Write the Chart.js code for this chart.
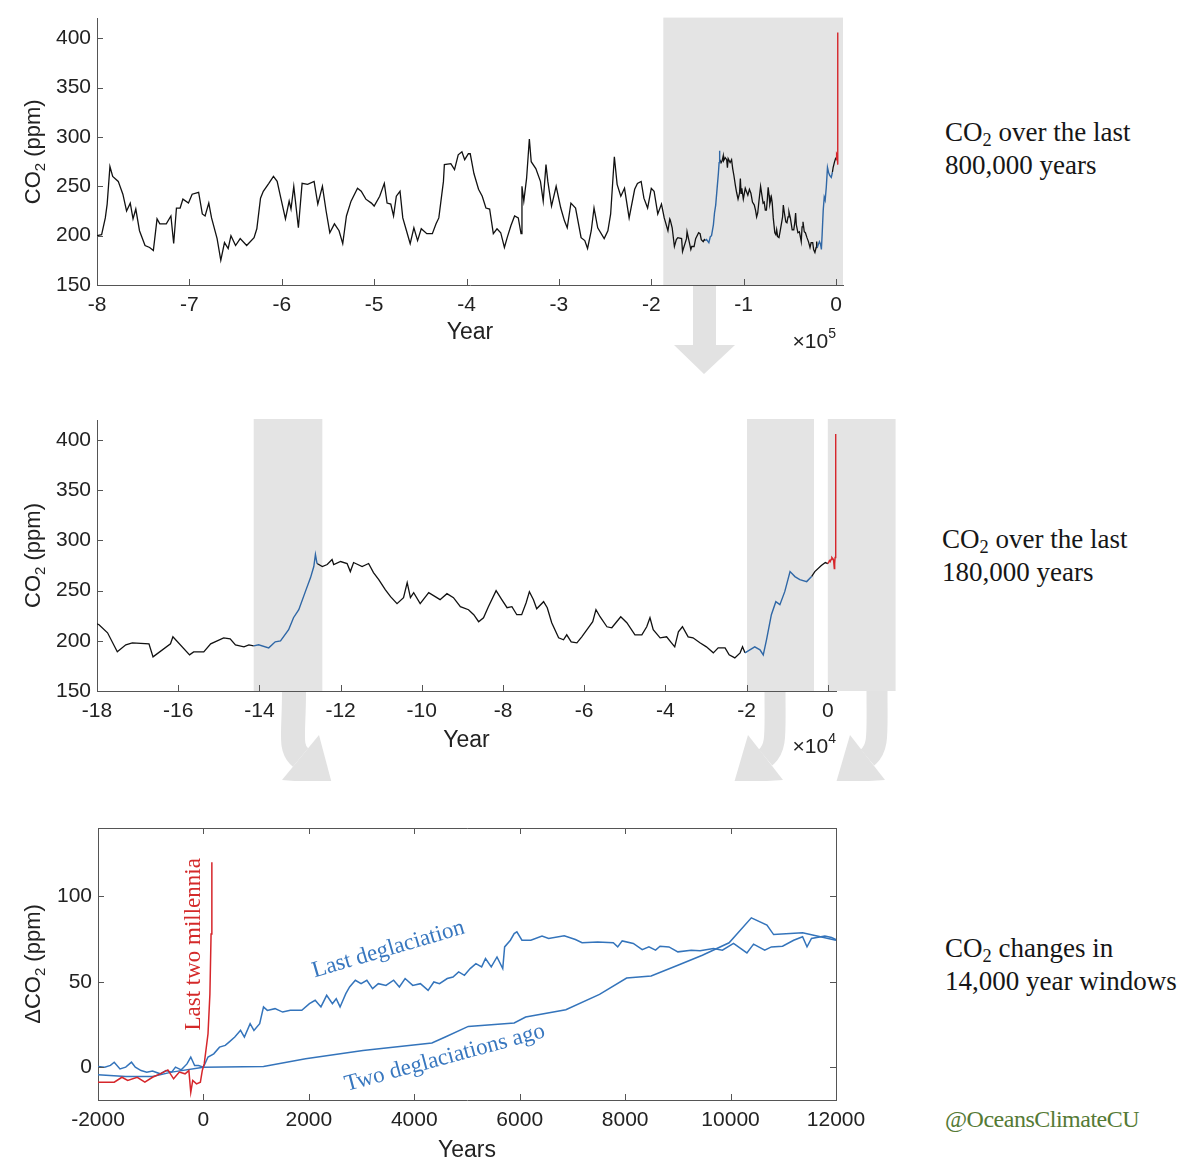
<!DOCTYPE html>
<html>
<head>
<meta charset="utf-8">
<title>CO2 over the last 800,000 years</title>
<script src="https://cdn.jsdelivr.net/npm/chart.js@4.4.1/dist/chart.umd.min.js"></script>
<style>
  html, body { margin: 0; background: #fff; }
  #wrap { position: relative; width: 1200px; height: 1172px; overflow: hidden; }
  #wrap canvas { position: absolute; left: 0; }
  #arrows { position: absolute; left: 0; top: 0; }
  .note { position: absolute; font-family: "Liberation Serif", "DejaVu Serif", serif; font-size: 27px; line-height: 33px; color: #161616; white-space: nowrap; }
  .note sub { font-size: 0.68em; line-height: 0; vertical-align: -0.28em; }
  .handle { color: #557a35; font-size: 24px; letter-spacing: -0.5px; }
</style>
</head>
<body>
<div id="wrap">
  <svg id="arrows" width="1200" height="1172">
    <defs><clipPath id="cut"><rect x="0" y="0" width="1200" height="781"/></clipPath></defs>
    <g fill="#e2e2e2">
      <path d="M693,286 H716 V345 H735 L704,374 L674,345 H693 Z"/>
    </g>
    <g clip-path="url(#cut)">
      <g fill="none" stroke="#e2e2e2" stroke-width="24" stroke-linecap="butt">
        <path d="M294,691 C294,735 289,748 300.5,757.5"/>
        <path d="M775,691 C775,735 777,748 765.5,757.5" stroke-width="21"/>
        <path d="M877,691 C877,735 879,748 867.5,757.5" stroke-width="21"/>
      </g>
      <g fill="#e2e2e2">
        <polygon points="282,780 319,735 332,784"/>
        <polygon points="748,735 783,780 734,783"/>
        <polygon points="850,735 885,780 836,783"/>
      </g>
    </g>
  </svg>
  <canvas id="c800" width="900" height="390" style="top:0"></canvas>
  <canvas id="c180" width="900" height="380" style="top:400px"></canvas>
  <canvas id="cwin" width="900" height="382" style="top:790px"></canvas>
  <div class="note" style="left:945px;top:116px">CO<sub>2</sub> over the last<br>800,000 years</div>
  <div class="note" style="left:942px;top:523px">CO<sub>2</sub> over the last<br>180,000 years</div>
  <div class="note" style="left:945px;top:932px">CO<sub>2</sub> changes in<br>14,000 year windows</div>
  <div class="note handle" style="left:945px;top:1103px">@OceansClimateCU</div>
</div>
<script>
// ---- ice core record, 800k to 180k years ago (kyr, ppm)
const longYr = [-800,-795,-791,-789,-786,-783,-777,-772,-768,-764,
  -761,-758,-754,-748,-743,-739,-735,-732,-725,-720,
  -717,-714,-710,-707,-701,-697,-690,-686,-683,-679,
  -676,-670,-666,-662,-658,-655,-650,-645,-638,-630,
  -627,-623,-620,-614,-609,-605,-601,-596,-592,-590,
  -587,-582,-578,-572,-565,-561,-556,-552,-548,-543,
  -538,-534,-530,-525,-518,-514,-509,-503,-500,-494,
  -489,-486,-482,-479,-476,-472,-469,-465,-461,-457,
  -453,-449,-443,-437,-433,-430,-425,-424,-417,-413,
  -409,-405,-402,-398,-396,-392,-387,-383,-379,-375,
  -371,-367,-363,-359,-356,-352,-348,-344,-341,-340,
  -338,-335,-332,-330,-325,-320,-317,-314,-312,-308,
  -303,-298,-294,-291,-287,-282,-276,-272,-269,-265,
  -262,-258,-251,-247,-244,-240,-237,-233,-229,-224,
  -218,-215,-211,-208,-204,-200,-197,-193,-189,-186,
  -182];
const longPpm = [200,201,218,232,270,260,255,242,225,233,
  217,227,205,190,188,185,217,212,212,220,
  192,228,228,237,233,242,244,222,220,233,
  218,197,175,193,187,200,190,197,190,198,
  207,238,245,253,260,255,238,217,235,227,
  250,208,253,252,255,232,250,225,203,212,
  205,192,220,235,248,245,237,233,230,240,
  253,233,232,220,240,245,218,205,192,208,
  195,207,202,202,212,218,255,272,273,267,
  282,285,277,283,283,263,247,240,228,227,
  202,207,203,188,198,210,220,218,202,250,
  235,258,298,275,268,255,235,272,255,230,
  250,228,215,208,233,228,198,195,187,205,
  228,208,197,205,222,280,252,240,248,218,
  247,253,255,238,228,248,245,222,232,218,
  205];

// ---- last 180k years (kyr, ppm)
const glacYr = [-180,-179.5,-177.4,-175,-172.9,-171.3,-167.2,-166.2,-161.9,-161.3,
  -157.2,-156.2,-153.7,-152,-148.8,-147.2,-145.9,-143.8,-142.6,-141.4,
  -140.2,-137.7,-136.1,-134.8,-132.8,-131.6,-130.3,-128.5,-127.4,-126.6,
  -126.2,-125.8,-124.5,-123.3,-122.1,-121.7,-120,-118.4,-117.6,-116.8,
  -114.7,-113.1,-111.9,-110.6,-109,-107.7,-106.1,-104.5,-103.6,-102.8,
  -102,-100.4,-98.3,-96.7,-95.5,-93.8,-92.2,-90.5,-88.5,-87.2,
  -86,-84.8,-83.6,-81.7,-80.3,-79,-77.8,-76.6,-75.4,-74.3,
  -73.5,-72.5,-71.7,-70,-69.1,-68,-66.3,-65.1,-64.3,-63.2,
  -61.8,-60.6,-59,-57.9,-57.1,-56.1,-54.4,-53.2,-52,-51,
  -49.5,-47.5,-45.8,-44.6,-43.8,-43,-41.3,-39.7,-38.5,-37.7,
  -36.8,-35.8,-34.4,-33.2,-31.5,-29.9,-28.2,-27,-25.3,-24.3,
  -22.9,-21.6,-21,-20.4,-19.2,-18,-16.7,-15.9,-15.1,-13.9,
  -12.8,-11.8,-10.6,-9.3,-8.1,-6.9,-5.2,-4,-3.2,-1.6,
  -0.6,0];
const glacPpm = [217,216,208,189,196,198,197,184,197,204,
  186,189,189,197,203,202,196,194,196,195,
  196,193,199,200,211,223,231,251,263,274,
  286,277,274,276,281,276,279,277,269,278,
  274,277,268,261,251,244,237,243,258,243,
  248,237,248,244,241,247,243,234,231,226,
  219,223,234,250,241,233,234,226,226,238,
  249,241,232,239,233,218,203,201,206,199,
  198,204,213,219,231,224,214,213,219,224,
  218,206,206,214,223,211,203,204,198,194,
  209,214,204,203,198,194,188,193,193,186,
  183,188,194,188,191,194,191,186,201,226,
  239,236,249,269,264,261,259,264,269,275,
  278,277];
// deglaciation windows drawn in blue (kyr)
const deglacWindows = [[-141.4, -125.8], [-20.4, -4.0]];

// ---- last two millennia (kyr, ppm)
const modernYr = [0,0.2,0.4,0.6,0.8,1.0,1.2,1.4,1.6,1.7,1.8,1.85,1.9,1.95,1.98,2.0,2.016];
const modernPpm = [277,278,280,279,281,283,282,281,272,277,283,285,296,311,336,369,406];

// ---- 14,000 year windows (years, delta ppm)
const redWinX = [-2000,-1692,-1546,-1437,-1256,-1111,-966,-820,-675,-566,
  -457,-348,-276,-240,-203,-131,-58,-22,15,87,123,145,160];
const redWinY = [-8.6,-8.6,-5.7,-7.6,-5.7,-8.6,-5.7,-3.7,-1.4,-6.6,
  -2.7,-3.7,-1.8,-14.5,-7.6,-9.6,-8.6,-1.8,2.1,19.7,43,78,120];
const lastDegX = [-2000,-1873,-1764,-1692,-1583,-1474,-1365,-1292,-1183,-1075,
  -966,-820,-711,-603,-530,-421,-312,-240,-167,-94,
  0,87,196,305,414,486,595,704,777,886,
  958,1067,1140,1212,1358,1503,1648,1866,2011,2120,
  2229,2338,2447,2519,2592,2701,2773,2882,2991,3100,
  3209,3318,3463,3608,3717,3826,3971,4116,4262,4371,
  4479,4625,4734,4842,4951,5060,5169,5278,5351,5460,
  5569,5678,5714,5823,5895,5946,6042,6211,6423,6549,
  6845,7056,7183,7479,7775,7859,7944,8155,8324,8451,
  8577,8662,8831,9000,9253,9422,9676,9845,10056,10310,
  10436,10648,10774,10986,11197,11366,11450,11535,11789,11915,
  12000];
const lastDegY = [0.6,0.2,1.2,3.1,-0.8,0.2,3.1,0.2,-1.8,-2.7,
  -2.1,-3.7,-1.8,-2.7,0.2,-1.4,2.1,6.1,1.2,1.2,
  0.2,6.1,8.0,11.9,12.9,14.8,17.8,21.7,17.8,25.6,
  21.7,25.6,35.4,33.4,34.4,32.4,33.4,33.4,37.3,39.3,
  35.4,42.2,37.3,40.2,35.4,43.2,47.1,51.0,49.0,51.0,
  46.1,49.0,48.0,51.0,47.1,52.0,48.0,49.0,45.1,50.0,
  49.0,52.0,52.9,55.9,53.9,57.8,60.7,58.8,63.7,58.8,
  64.6,57.8,70.5,74.4,78.3,79.3,74.4,74.4,76.8,75.4,
  77.0,74.8,72.9,73.4,72.9,70.5,74.0,72.5,68.9,70.5,
  68.6,70.9,70.5,67.6,68.6,68.2,69.5,68.6,72.5,67.0,
  72.1,68.6,70.5,70.9,74.4,76.4,70.5,75.4,76.8,76.0,
  74.8];
const twoDegX = [-2000,-1474,-966,-603,0,1140,1938,3027,4334,4588,
  5024,5895,6113,6875,7514,8028,8493,9000,9465,9972,
  10394,10690,10817,11366,11704,12000];
const twoDegY = [-4.3,-5.3,-5.3,-2.7,0.2,0.6,5.1,10.0,14.3,17.8,
  24.0,26.0,29.5,33.8,42.7,52.3,53.5,59.8,65.6,72.9,
  87.5,83.2,77.7,78.7,76.4,74.4];

// ---- ticks
const ticks800 = [-800,-700,-600,-500,-400,-300,-200,-100,0];
const labels800 = ["-8","-7","-6","-5","-4","-3","-2","-1","0"];
const ticks180 = [-180,-160,-140,-120,-100,-80,-60,-40,-20,0];
const labels180 = ["-18","-16","-14","-12","-10","-8","-6","-4","-2","0"];
const ticksPpm = [150,200,250,300,350,400];
const ticksWinX = [-2000,0,2000,4000,6000,8000,10000,12000];
const ticksWinY = [0,50,100];

const AXIS = "#555", LABEL = "#222", SHADE = "#e4e4e4";
const BLACK = "#111", BLUE = "#2f67a6", BLUE3 = "#3474bb", RED = "#d6262b";
const SANS = '"Liberation Sans", Arial, sans-serif';
const SERIF = '"Liberation Serif", "DejaVu Serif", serif';

const pts = (xs, ys) => xs.map((x, i) => ({ x, y: ys[i] }));
const inWin = (x) => deglacWindows.some(([a, b]) => x > a && x < b);
const glacAll = pts(glacYr, glacPpm);
const glacBlack = glacAll.map((p) => (inWin(p.x) ? { x: p.x, y: null } : p));
const glacBlue = deglacWindows.map(([a, b]) => glacAll.filter((p) => p.x >= a && p.x <= b));
const modern = pts(modernYr, modernPpm);

// gray windows behind the curves
const shade = {
  id: "shade",
  beforeDraw(chart, _a, o) {
    if (!o.spans) return;
    const { ctx, chartArea: a, scales: { x } } = chart;
    ctx.save();
    ctx.fillStyle = SHADE;
    o.spans.forEach(([s, e]) => {
      const l = x.getPixelForValue(s), r = x.getPixelForValue(e);
      ctx.fillRect(l, a.top - 1, r - l, a.bottom - a.top + 1);
    });
    ctx.restore();
  },
};

// matlab look: inward ticks, optional box, subscript y title, x10^n
const matlabAxes = {
  id: "matlabAxes",
  afterDraw(chart, _a, o) {
    const { ctx, chartArea: a, scales: { x, y } } = chart;
    const T = 6;
    ctx.save();
    ctx.strokeStyle = AXIS; ctx.lineWidth = 1;
    ctx.beginPath();
    x.ticks.forEach((t) => {
      const px = Math.round(x.getPixelForValue(t.value)) + 0.5;
      ctx.moveTo(px, a.bottom); ctx.lineTo(px, a.bottom - T);
      if (o.box) { ctx.moveTo(px, a.top); ctx.lineTo(px, a.top + T); }
    });
    y.ticks.forEach((t) => {
      const py = Math.round(y.getPixelForValue(t.value)) + 0.5;
      ctx.moveTo(a.left, py); ctx.lineTo(a.left + T, py);
      if (o.box) { ctx.moveTo(a.right, py); ctx.lineTo(a.right - T, py); }
    });
    if (o.box) {
      ctx.moveTo(a.left, Math.round(a.top) + 0.5);
      ctx.lineTo(Math.round(a.right) + 0.5, Math.round(a.top) + 0.5);
      ctx.lineTo(Math.round(a.right) + 0.5, a.bottom);
    }
    ctx.stroke();

    ctx.fillStyle = LABEL;
    if (o.exp) {
      ctx.textAlign = "right"; ctx.textBaseline = "alphabetic";
      ctx.font = `14px ${SANS}`;
      const ws = ctx.measureText(o.exp).width;
      ctx.fillText(o.exp, o.expX, o.expY - 10);
      ctx.font = `21px ${SANS}`;
      ctx.fillText("\u00d710", o.expX - ws, o.expY);
    }

    ctx.translate(o.titleX, (a.top + a.bottom) / 2);
    ctx.rotate(-Math.PI / 2);
    ctx.textAlign = "left"; ctx.textBaseline = "alphabetic";
    const [p1, sub, p2] = o.yTitle;
    ctx.font = `22px ${SANS}`;
    const w1 = ctx.measureText(p1).width, w3 = ctx.measureText(p2).width;
    ctx.font = `15px ${SANS}`;
    const w2 = ctx.measureText(sub).width;
    const s = -(w1 + w2 + w3) / 2;
    ctx.font = `22px ${SANS}`; ctx.fillText(p1, s, 8);
    ctx.font = `15px ${SANS}`; ctx.fillText(sub, s + w1, 12.5);
    ctx.font = `22px ${SANS}`; ctx.fillText(p2, s + w1 + w2, 8);
    ctx.restore();
  },
};

// curve labels placed in data coordinates
const curveLabels = {
  id: "curveLabels",
  afterDatasetsDraw(chart, _a, o) {
    if (!o.items) return;
    const { ctx, scales: { x, y } } = chart;
    ctx.save();
    ctx.font = `23px ${SERIF}`;
    ctx.textAlign = "center"; ctx.textBaseline = "middle";
    o.items.forEach((it) => {
      ctx.save();
      ctx.translate(x.getPixelForValue(it.x), y.getPixelForValue(it.y));
      ctx.rotate(it.angle * Math.PI / 180);
      ctx.fillStyle = it.color;
      ctx.fillText(it.text, 0, 0);
      ctx.restore();
    });
    ctx.restore();
  },
};

function line(data, color, width, clip) {
  return { data, borderColor: color, borderWidth: width, pointRadius: 0, tension: 0, spanGaps: false, fill: false, clip };
}

function make(id, cfg) {
  const tickFont = { family: SANS, size: 21 };
  new Chart(document.getElementById(id), {
    type: "line",
    data: { datasets: cfg.datasets },
    plugins: [shade, matlabAxes, curveLabels],
    options: {
      responsive: false, animation: false, events: [],
      layout: { padding: { left: 0, top: cfg.top, right: cfg.right, bottom: 0 } },
      plugins: {
        legend: { display: false }, tooltip: { enabled: false },
        shade: { spans: cfg.spans },
        matlabAxes: { box: cfg.box, exp: cfg.exp, expX: 836, expY: cfg.expY, titleX: 32, yTitle: cfg.yTitle },
        curveLabels: { items: cfg.labels },
      },
      scales: {
        x: {
          type: "linear", min: cfg.xMin, max: cfg.xMax,
          afterBuildTicks: (s) => { s.ticks = cfg.xTicks.map((value) => ({ value })); },
          afterFit: (s) => { s.height = cfg.xHeight; },
          ticks: { autoSkip: false, maxRotation: 0, padding: 8, color: LABEL, font: tickFont,
            callback: (v, i) => cfg.xLabels[i] },
          grid: { display: false, drawTicks: false },
          border: { display: true, color: AXIS, width: 1 },
          title: { display: true, text: cfg.xTitle, color: LABEL, font: { family: SANS, size: 23 },
            padding: { top: 0, bottom: cfg.titlePad } },
        },
        y: {
          type: "linear", min: cfg.yMin, max: cfg.yMax,
          afterBuildTicks: (s) => { s.ticks = cfg.yTicks.map((value) => ({ value })); },
          afterFit: (s) => { s.width = cfg.yWidth; },
          ticks: { autoSkip: false, padding: 6, color: LABEL, font: tickFont, callback: (v) => String(v) },
          grid: { display: false, drawTicks: false },
          border: { display: true, color: AXIS, width: 1 },
        },
      },
    },
  });
}

make("c800", {
  datasets: [
    line(modern, RED, 1.4, false),
    line(glacBlue[0], BLUE, 1.4),
    line(glacBlue[1], BLUE, 1.4),
    line([...pts(longYr, longPpm), ...glacBlack], BLACK, 1.3),
  ],
  top: 15, right: 57, xHeight: 105, yWidth: 97,
  xMin: -800, xMax: 7.5, xTicks: ticks800, xLabels: labels800,
  yMin: 150, yMax: 420, yTicks: ticksPpm,
  spans: [[-187, 7.5]], exp: "5", expY: 348,
  xTitle: "Year", titlePad: 44, yTitle: ["CO", "2", " (ppm)"],
});

make("c180", {
  datasets: [
    line(modern, RED, 1.4, false),
    line(glacBlue[0], BLUE, 1.4),
    line(glacBlue[1], BLUE, 1.4),
    line(glacBlack, BLACK, 1.3),
  ],
  top: 20, right: 64, xHeight: 89, yWidth: 97,
  xMin: -180, xMax: 2.02, xTicks: ticks180, xLabels: labels180,
  yMin: 150, yMax: 420, yTicks: ticksPpm,
  spans: [[-141.4, -124.5], [-19.9, -3.4], [0, 16.7]], exp: "4", expY: 353,
  xTitle: "Year", titlePad: 26, yTitle: ["CO", "2", " (ppm)"],
});

make("cwin", {
  datasets: [
    line(pts(redWinX, redWinY), RED, 1.5),
    line(pts(lastDegX, lastDegY), BLUE3, 1.5),
    line(pts(twoDegX, twoDegY), BLUE3, 1.5),
  ],
  top: 38, right: 64, xHeight: 72, yWidth: 98, box: true,
  xMin: -2000, xMax: 12000, xTicks: ticksWinX, xLabels: ticksWinX.map(String),
  yMin: -19, yMax: 140, yTicks: ticksWinY,
  xTitle: "Years", titlePad: 8, yTitle: ["\u0394CO", "2", " (ppm)"],
  labels: [
    { text: "Last two millennia", x: -171, y: 72, angle: -90, color: "#d42a2a" },
    { text: "Last deglaciation", x: 3511, y: 69, angle: -16.3, color: "#3877bf" },
    { text: "Two deglaciations ago", x: 4580, y: 5.5, angle: -15.2, color: "#3877bf" },
  ],
});
</script>
</body>
</html>
